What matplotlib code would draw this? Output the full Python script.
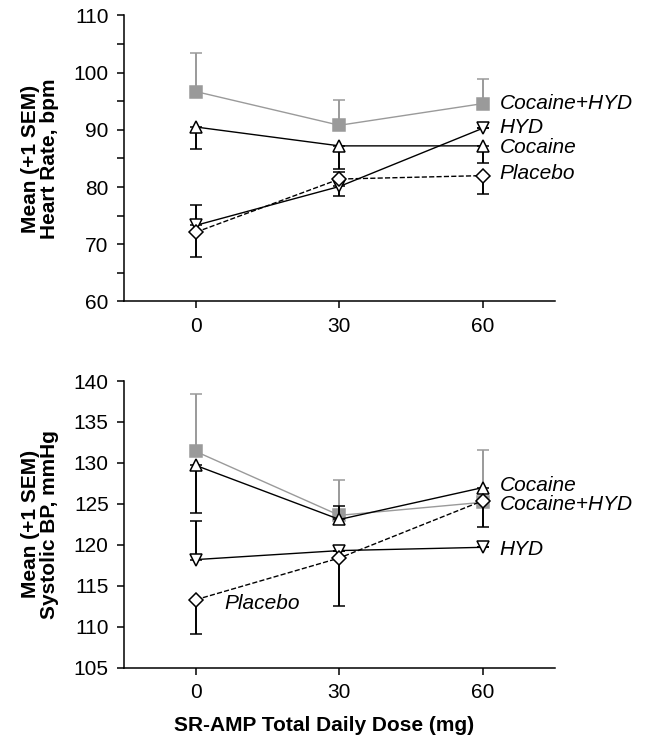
import matplotlib
matplotlib.use("Agg")
import matplotlib.pyplot as plt
from matplotlib.ticker import MultipleLocator

plt.rcParams['font.family'] = ['Liberation Sans', 'DejaVu Sans']

doses = [0, 30, 60]
dose_labels = ["0", "30", "60"]

# Heart rate (top)
hr_coc_hyd = [96.7, 90.8, 94.6]
hr_coc_hyd_err_up = [6.8, 4.5, 4.3]
hr_coc = [90.5, 87.2, 87.2]
hr_coc_err_dn = [3.9, 4.1, 3.0]
hr_hyd = [73.3, 80.1, 90.3]
hr_hyd_err_up = [3.5, 0.0, 0.0]
hr_hyd_err_dn = [0.0, 1.6, 0.0]
hr_pla = [72.1, 81.4, 82.0]
hr_pla_err_up = [0.0, 1.3, 0.0]
hr_pla_err_dn = [4.4, 0.0, 3.2]

# Systolic BP (bottom)
bp_coc_hyd = [131.4, 123.6, 125.2]
bp_coc_hyd_err_up = [7.0, 4.3, 6.4]
bp_coc = [129.7, 123.1, 127.0]
bp_coc_err_up = [0.0, 1.7, 0.0]
bp_coc_err_dn = [5.8, 0.0, 4.8]
bp_hyd = [118.2, 119.3, 119.7]
bp_hyd_err_up = [4.7, 0.0, 0.0]
bp_pla = [113.3, 118.4, 125.4]
bp_pla_err_dn = [4.2, 5.9, 0.0]

fig = plt.figure(figsize=(6.49, 7.37), dpi=100)
ax1 = fig.add_axes([0.191, 0.591, 0.664, 0.388])
ax2 = fig.add_axes([0.191, 0.094, 0.664, 0.389])

GRAY = '#9a9a9a'
ms = 9

def series(ax, y, lo, hi, color, marker, ls, mfc, mec, z, msz=ms):
    ax.errorbar(doses, y, yerr=[lo, hi], color=color, ecolor=color, elinewidth=1.4,
                capsize=4.5, capthick=1.4, marker=marker, ms=msz, mfc=mfc, mec=mec,
                mew=1.1, ls=ls, lw=1.0, zorder=z, clip_on=False)

zeros = [0, 0, 0]
# top
series(ax1, hr_coc_hyd, zeros, hr_coc_hyd_err_up, GRAY, 's', '-', GRAY, GRAY, 2)
series(ax1, hr_coc, hr_coc_err_dn, zeros, 'black', '^', '-', 'white', 'black', 3)
series(ax1, hr_hyd, hr_hyd_err_dn, hr_hyd_err_up, 'black', 'v', '-', 'white', 'black', 3)
series(ax1, hr_pla, hr_pla_err_dn, hr_pla_err_up, 'black', 'D', '--', 'white', 'black', 4, 7)

# bottom
series(ax2, bp_coc_hyd, zeros, bp_coc_hyd_err_up, GRAY, 's', '-', GRAY, GRAY, 2)
series(ax2, bp_coc, bp_coc_err_dn, bp_coc_err_up, 'black', '^', '-', 'white', 'black', 3)
series(ax2, bp_hyd, zeros, bp_hyd_err_up, 'black', 'v', '-', 'white', 'black', 3)
series(ax2, bp_pla, bp_pla_err_dn, zeros, 'black', 'D', '--', 'white', 'black', 4, 7)

lab_kw = dict(fontsize=15, fontstyle='italic', va='center', ha='left')
ax1.text(63.5, 94.6, "Cocaine+HYD", **lab_kw)
ax1.text(63.5, 90.4, "HYD", **lab_kw)
ax1.text(63.5, 86.9, "Cocaine", **lab_kw)
ax1.text(63.5, 82.3, "Placebo", **lab_kw)

ax2.text(63.5, 127.2, "Cocaine", **lab_kw)
ax2.text(63.5, 124.9, "Cocaine+HYD", **lab_kw)
ax2.text(63.5, 119.4, "HYD", **lab_kw)
ax2.text(6, 112.9, "Placebo", **lab_kw)

for ax, lims in ((ax1, (60, 110)), (ax2, (105, 140))):
    ax.set_xlim(-15, 75)
    ax.set_ylim(*lims)
    ax.set_xticks(doses)
    ax.set_xticklabels(dose_labels)
    ax.yaxis.set_major_locator(MultipleLocator(10 if ax is ax1 else 5))
    if ax is ax1:
        ax.yaxis.set_minor_locator(MultipleLocator(5))
    for s in ('top', 'right'):
        ax.spines[s].set_visible(False)
    for s in ('left', 'bottom'):
        ax.spines[s].set_linewidth(1.1)
    ax.tick_params(axis='both', which='major', direction='out', length=5, width=1.1,
                   labelsize=15, pad=6)
    ax.tick_params(axis='y', which='minor', direction='out', length=5, width=1.1)

ax1.set_ylabel("Mean (+1 SEM)\nHeart Rate, bpm", fontsize=15, fontweight='bold', linespacing=1.0)
ax2.set_ylabel("Mean (+1 SEM)\nSystolic BP, mmHg", fontsize=15, fontweight='bold', linespacing=1.0)
ax1.yaxis.set_label_coords(-0.15, 0.5)
ax2.yaxis.set_label_coords(-0.15, 0.5)
ax2.set_xlabel("SR-AMP Total Daily Dose (mg)", fontsize=15, fontweight='bold')
ax2.xaxis.set_label_coords((324 - 124) / 431, -0.17)

fig.savefig("out.png", dpi=100)
